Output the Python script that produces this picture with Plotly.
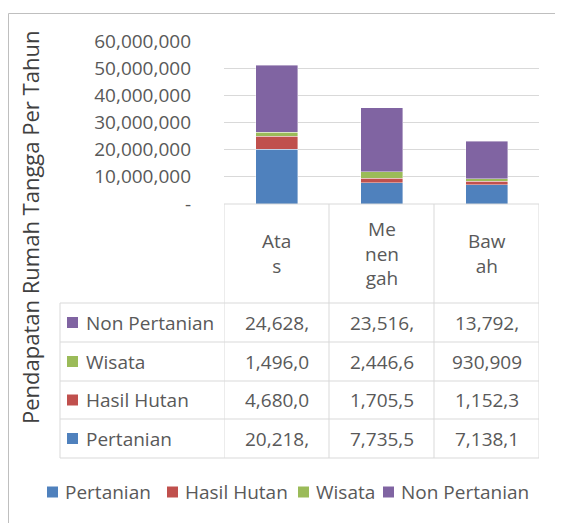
import plotly.graph_objects as go

categories = ['Atas', 'Menengah', 'Bawah']
header_labels = ['Ata<br>s', 'Me<br>nen<br>gah', 'Baw<br>ah']

pertanian = [20218450, 7735520, 7138120]
hasil_hutan = [4680040, 1705530, 1152310]
wisata = [1496040, 2446620, 930909]
non_pertanian = [24628300, 23516200, 13792400]

y_ticks = [0, 10000000, 20000000, 30000000, 40000000, 50000000, 60000000]
y_ticktext = ['-'] + [f'{v:,}' for v in y_ticks[1:]]

series = [
    ('Pertanian', pertanian, '#4F81BD'),
    ('Hasil Hutan', hasil_hutan, '#C0504D'),
    ('Wisata', wisata, '#9BBB59'),
    ('Non Pertanian', non_pertanian, '#8064A2'),
]

W, H = 563, 523
OFF = 8  # page body margin
FONT = 'Open Sans'
FS = 19
GREY = '#595959'
LINE = '#D9D9D9'


def py(px_y):
    # screen pixel row -> paper y
    return 1 - (px_y - OFF) / H


def px_x(px):
    return (px - OFF) / W


def square(x_left, y_mid, color, size=11):
    return dict(type='rect', xref='paper', yref='paper', line=dict(width=0), fillcolor=color,
                x0=px_x(x_left), x1=px_x(x_left + size),
                y0=py(y_mid + size / 2), y1=py(y_mid - size / 2))


def label(x, y, text, xref='paper', xanchor='center', **kw):
    return dict(xref=xref, yref='paper', x=x, y=y, text=text, showarrow=False,
                xanchor=xanchor, yanchor='middle',
                font=dict(size=kw.pop('size', FS), color=kw.pop('color', GREY), family=FONT), **kw)


fig = go.Figure()
for name, vals, color in series:
    fig.add_trace(go.Bar(
        x=categories, y=vals, name=name, width=0.4, showlegend=False,
        marker=dict(color=color, line=dict(color='rgba(255,255,255,0.5)', width=0.8)),
    ))

shapes = []
annotations = []

# chart frame
shapes.append(dict(type='rect', xref='paper', yref='paper',
                   x0=px_x(8.5), x1=px_x(580), y0=py(540), y1=py(13.5),
                   line=dict(color='#BFBFBF', width=1)))

# data table geometry (screen pixel rows)
header_top, header_bot = 204, 303
row_edges = [303, 342, 381, 419, 458]
table_left = 60

shapes.append(dict(type='line', xref='x', yref='paper', x0=-0.5, x1=2.5,
                   y0=py(header_top), y1=py(header_top), line=dict(color=LINE, width=1)))
for e in row_edges:
    shapes.append(dict(type='line', xref='paper', yref='paper', x0=px_x(table_left),
                       x1=px_x(539), y0=py(e), y1=py(e), line=dict(color=LINE, width=1)))
for xv in [-0.5, 0.5, 1.5, 2.5]:
    shapes.append(dict(type='line', xref='x', yref='paper', x0=xv, x1=xv,
                       y0=py(header_top), y1=py(row_edges[-1]), line=dict(color=LINE, width=1)))
shapes.append(dict(type='line', xref='paper', yref='paper', x0=px_x(table_left), x1=px_x(table_left),
                   y0=py(row_edges[0]), y1=py(row_edges[-1]), line=dict(color=LINE, width=1)))

for i, lab in enumerate(header_labels):
    annotations.append(label(i, py((header_top + header_bot) / 2), lab, xref='x'))

# rows: top row is the last series
for r, (name, vals, color) in enumerate(reversed(series)):
    ymid = (row_edges[r] + row_edges[r + 1]) / 2
    shapes.append(square(67, ymid, color))
    annotations.append(label(px_x(84), py(ymid), name, xanchor='left'))
    for i, v in enumerate(vals):
        annotations.append(label(i, py(ymid), f'{v:,}'[:7], xref='x'))

# legend
legend_x = [47, 167, 298, 383]
legend_y = 492
for (name, vals, color), lx in zip(series, legend_x):
    shapes.append(square(lx, legend_y, color))
    annotations.append(label(px_x(lx + 16), py(legend_y), name, xanchor='left'))

annotations.append(label(px_x(30), py(228), 'Pendapatan Rumah Tangga Per Tahun',
                         textangle=-90, size=22, color='#404040'))

fig.update_layout(
    template='none',
    width=W, height=H,
    margin=dict(l=0, r=0, t=0, b=0, autoexpand=False),
    paper_bgcolor='white', plot_bgcolor='white',
    barmode='stack',
    showlegend=False,
    font=dict(family=FONT, color=GREY, size=FS),
    xaxis=dict(domain=[px_x(224), px_x(539)], range=[-0.5, 2.5], automargin=False,
               showticklabels=False, showgrid=False, zeroline=False, showline=False, ticks=''),
    yaxis=dict(domain=[py(204), py(41)], range=[0, 60000000], automargin=False,
               tickvals=y_ticks, ticktext=y_ticktext, ticks='', showline=False,
               showgrid=True, gridcolor=LINE, gridwidth=1, zeroline=False,
               ticklabelstandoff=32, tickfont=dict(size=FS, color=GREY)),
    shapes=shapes,
    annotations=annotations,
)

fig.write_html('out.html')
